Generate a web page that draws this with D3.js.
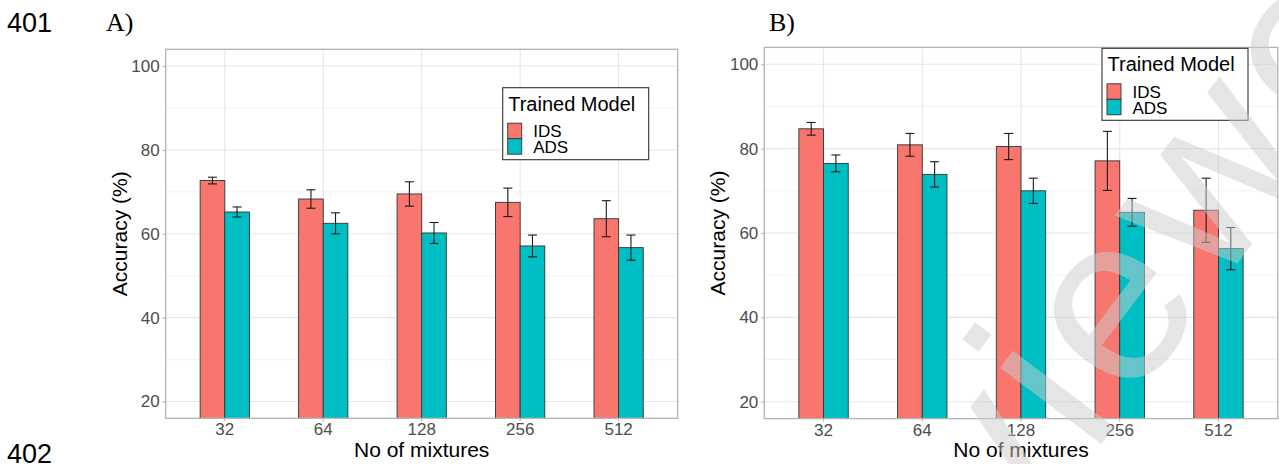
<!DOCTYPE html>
<head>
    <meta charset=utf-8>
    <title>Accuracy by number of mixtures</title>
    <script src="https://d3js.org/d3.v7.min.js"></script>
    <style>
        body { margin: 0; background: #ffffff; }
        text { font-family: "Liberation Sans", Arial, sans-serif; }
        .tick-label { fill: #4d4d4d; font-size: 17px; }
        .axis-title { fill: #000000; font-size: 21px; }
        .serif { font-family: "Liberation Serif", "Times New Roman", serif; }
    </style>
</head>
<body>
    <script type="text/javascript">
        // data
        var categories = ["32", "64", "128", "256", "512"];
        var models = ["IDS", "ADS"];
        var yTicks = [20, 40, 60, 80, 100],
            yMinor = [30, 50, 70, 90];

        // panel A
        var accA_IDS = [72.7, 68.3, 69.5, 67.5, 63.6],
            errA_IDS = [0.8, 2.2, 2.9, 3.4, 4.3],
            accA_ADS = [65.2, 62.5, 60.2, 57.1, 56.7],
            errA_ADS = [1.2, 2.5, 2.5, 2.6, 3.0];

        // panel B
        var accB_IDS = [84.7, 80.9, 80.5, 77.1, 65.4],
            errB_IDS = [1.5, 2.7, 3.1, 7.0, 7.6],
            accB_ADS = [76.5, 73.9, 70.0, 64.9, 56.3],
            errB_ADS = [2.0, 3.0, 3.0, 3.3, 5.0];

        var colors = {IDS: "#F8766D", ADS: "#00BFC4"};

        var svg_dx = 1279, svg_dy = 464;

        var svg = d3.select("body")
                .append("svg")
                .attr("width", svg_dx)
                .attr("height", svg_dy);

        var panels = [
            {tag: "A)", tagX: 106, ids: accA_IDS, idsErr: errA_IDS, ads: accA_ADS, adsErr: errA_ADS,
             left: 165.7, right: 677.7, top: 49.3, bottom: 418.3, yTitleX: 127, legX: 502.7, legY: 87.7},
            {tag: "B)", tagX: 769, ids: accB_IDS, idsErr: errB_IDS, ads: accB_ADS, adsErr: errB_ADS,
             left: 764.3, right: 1277.7, top: 47.4, bottom: 418.6, yTitleX: 725, legX: 1102, legY: 48.3}
        ];

        // line numbers
        svg.append("text").attr("x", 7).attr("y", 32).style("font-size", "27px").text("401");
        svg.append("text").attr("x", 7).attr("y", 463).style("font-size", "27px").text("402");

        panels.forEach(function (p) {
            var rows = categories.map(function (c, i) {
                return [
                    {cat: c, model: "IDS", v: p.ids[i], e: p.idsErr[i]},
                    {cat: c, model: "ADS", v: p.ads[i], e: p.adsErr[i]}
                ];
            }).flat();

            var x = d3.scaleBand().domain(categories)
                    .range([p.left, p.right])
                    .paddingInner(0).paddingOuter(0.1);
            var step = x.step();
            var xm = d3.scaleBand().domain(models).range([-0.25 * step, 0.25 * step]);
            var y = d3.scaleLinear().domain([16, 104]).range([p.bottom, p.top]);
            var cx = function (c) { return x(c) + x.bandwidth() / 2; };

            var g = svg.append("g");

            // grid
            g.append("g").selectAll("line").data(yMinor).enter().append("line")
                .attr("x1", p.left).attr("x2", p.right)
                .attr("y1", function (d) { return y(d); }).attr("y2", function (d) { return y(d); })
                .attr("stroke", "#f2f2f2").attr("stroke-width", 1);
            g.append("g").selectAll("line").data(yTicks).enter().append("line")
                .attr("x1", p.left).attr("x2", p.right)
                .attr("y1", function (d) { return y(d); }).attr("y2", function (d) { return y(d); })
                .attr("stroke", "#e6e6e6").attr("stroke-width", 1.1);
            g.append("g").selectAll("line").data(categories).enter().append("line")
                .attr("x1", cx).attr("x2", cx)
                .attr("y1", p.top).attr("y2", p.bottom)
                .attr("stroke", "#e6e6e6").attr("stroke-width", 1.1);

            // bars (clipped at the panel bottom)
            var clipId = "clip" + p.tag[0];
            svg.append("clipPath").attr("id", clipId).append("rect")
                .attr("x", p.left).attr("y", p.top)
                .attr("width", p.right - p.left).attr("height", p.bottom - p.top);

            g.append("g").attr("clip-path", "url(#" + clipId + ")")
                .selectAll("rect").data(rows).enter().append("rect")
                .attr("x", function (d) { return cx(d.cat) + xm(d.model); })
                .attr("width", xm.bandwidth())
                .attr("y", function (d) { return y(d.v); })
                .attr("height", function (d) { return y(16) - y(d.v) + 2; })
                .attr("fill", function (d) { return colors[d.model]; })
                .attr("stroke", "#333333").attr("stroke-width", 0.9);

            // error bars
            var eb = g.append("g").selectAll("g").data(rows).enter().append("g")
                .attr("stroke", "#1a1a1a").attr("stroke-width", 1.1);
            var mid = function (d) { return cx(d.cat) + xm(d.model) + xm.bandwidth() / 2; };
            eb.append("line")
                .attr("x1", mid).attr("x2", mid)
                .attr("y1", function (d) { return y(d.v + d.e); })
                .attr("y2", function (d) { return y(d.v - d.e); });
            eb.append("line")
                .attr("x1", function (d) { return mid(d) - 4.5; }).attr("x2", function (d) { return mid(d) + 4.5; })
                .attr("y1", function (d) { return y(d.v + d.e); }).attr("y2", function (d) { return y(d.v + d.e); });
            eb.append("line")
                .attr("x1", function (d) { return mid(d) - 4.5; }).attr("x2", function (d) { return mid(d) + 4.5; })
                .attr("y1", function (d) { return y(d.v - d.e); }).attr("y2", function (d) { return y(d.v - d.e); });

            // panel border
            g.append("rect")
                .attr("x", p.left).attr("y", p.top)
                .attr("width", p.right - p.left).attr("height", p.bottom - p.top)
                .attr("fill", "none").attr("stroke", "#b3b3b3").attr("stroke-width", 1.3);

            // axes
            var axis_y = d3.axisLeft(y).tickValues(yTicks).tickSize(3).tickPadding(3);
            var ay = g.append("g").attr("transform", "translate(" + p.left + ",0)").call(axis_y);
            var axis_x = d3.axisBottom(x).tickSize(3).tickPadding(2);
            var ax = g.append("g").attr("transform", "translate(0," + p.bottom + ")").call(axis_x);
            [ay, ax].forEach(function (a) {
                a.select(".domain").remove();
                a.selectAll(".tick line").attr("stroke", "#b3b3b3").attr("stroke-width", 1.1);
                a.selectAll(".tick text").attr("class", "tick-label").attr("font-size", null).attr("font-family", null);
            });

            // titles
            g.append("text").attr("class", "axis-title")
                .attr("x", (p.left + p.right) / 2).attr("y", 457)
                .attr("text-anchor", "middle").text("No of mixtures");
            g.append("text").attr("class", "axis-title")
                .attr("transform", "translate(" + p.yTitleX + "," + ((p.top + p.bottom) / 2) + ") rotate(-90)")
                .attr("text-anchor", "middle").text("Accuracy (%)");
            g.append("text").attr("class", "serif")
                .attr("x", p.tagX).attr("y", 31).style("font-size", "26px").text(p.tag);

            // legend
            var lg = g.append("g").attr("transform", "translate(" + p.legX + "," + p.legY + ")");
            lg.append("rect").attr("width", 146).attr("height", 72)
                .attr("fill", "#ffffff").attr("stroke", "#333333").attr("stroke-width", 1.1);
            lg.append("text").attr("x", 5.5).attr("y", 23).style("font-size", "20px").text("Trained Model");
            models.forEach(function (m, i) {
                lg.append("rect").attr("x", 5).attr("y", 35.5 + i * 15.5)
                    .attr("width", 14).attr("height", 15.5)
                    .attr("fill", colors[m]).attr("stroke", "#333333").attr("stroke-width", 0.9);
                lg.append("text").attr("x", 30.5).attr("y", 49.5 + i * 16)
                    .style("font-size", "17px").text(m);
            });
        });

        // watermark over everything
        svg.append("text")
            .attr("transform", "translate(873,747) rotate(-53)")
            .attr("fill", "#cccccc").attr("fill-opacity", 0.5)
            .style("font-size", "240px").style("letter-spacing", "10px")
            .text("reviewed");
    </script>
</body>
